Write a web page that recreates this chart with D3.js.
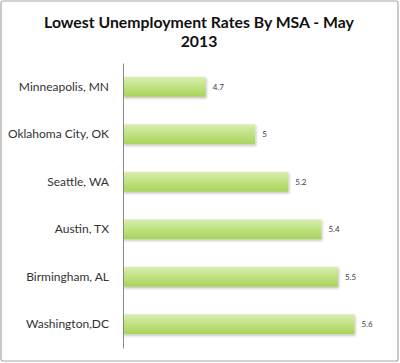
<!DOCTYPE html>
<html>
<head>
<meta charset="utf-8">
<script src="https://cdn.jsdelivr.net/npm/d3@7"></script>
<style>
  body { margin: 0; background: #fff; }
  svg { display: block; font-family: Lato, "Open Sans", sans-serif; }
</style>
</head>
<body>
<svg></svg>
<script>
var cities = ['Minneapolis, MN', 'Oklahoma City, OK', 'Seattle, WA', 'Austin, TX', 'Birmingham, AL', 'Washington,DC'];
var rates = [4.7, 5, 5.2, 5.4, 5.5, 5.6];
var titleLines = ['Lowest Unemployment Rates By MSA - May', '2013'];

var data = cities.map(function(c, i) { return {city: c, rate: rates[i]}; });

var width = 400, height = 363;
var svg = d3.select('svg').attr('width', width).attr('height', height);

var margin = {top: 63, right: 29, bottom: 15, left: 123},
  chartWidth = width - margin.left - margin.right,
  chartHeight = height - margin.top - margin.bottom;

// gradient for the bars
var defs = svg.append('defs');
var grad = defs.append('linearGradient').attr('id', 'barGrad')
  .attr('x1', 0).attr('y1', 0).attr('x2', 0).attr('y2', 1);
grad.append('stop').attr('offset', '0%').attr('stop-color', '#d9eeb3');
grad.append('stop').attr('offset', '45%').attr('stop-color', '#c2e385');
grad.append('stop').attr('offset', '100%').attr('stop-color', '#a9d35c');
var shadow = defs.append('filter').attr('id', 'shadow')
  .attr('x', '-5%').attr('y', '-20%').attr('width', '115%').attr('height', '160%');
shadow.append('feDropShadow').attr('dx', 1).attr('dy', 1.5).attr('stdDeviation', 1)
  .attr('flood-color', '#000').attr('flood-opacity', 0.25);

// frame
svg.append('rect')
  .attr('x', 1).attr('y', 1).attr('width', width - 3).attr('height', height - 3)
  .attr('rx', 2)
  .attr('fill', '#fff').attr('stroke', '#a6a6a6').attr('stroke-width', 1.2);

// title
svg.append('text')
  .attr('text-anchor', 'middle')
  .attr('font-weight', 'bold').attr('font-size', 15.8).attr('fill', '#111')
  .selectAll('tspan').data(titleLines).enter().append('tspan')
  .attr('x', 199)
  .attr('y', function(d, i) { return 28 + i * 18.5; })
  .text(function(d) { return d; });

var g = svg.append('g').attr('transform', 'translate(' + margin.left + ',' + margin.top + ')');

var x = d3.scaleLinear()
  .range([0, chartWidth])
  .domain([4.2, 5.7]);

var y = d3.scaleBand()
  .range([0, chartHeight])
  .domain(cities)
  .paddingInner(0.58)
  .paddingOuter(0.29);

g.selectAll('rect.bar')
  .data(data)
  .enter().append('rect')
  .attr('class', 'bar')
  .attr('x', 0)
  .attr('y', function(d) { return y(d.city); })
  .attr('width', function(d) { return x(d.rate); })
  .attr('height', y.bandwidth())
  .attr('fill', 'url(#barGrad)')
  .attr('filter', 'url(#shadow)');

g.selectAll('text.val')
  .data(data)
  .enter().append('text')
  .attr('class', 'val')
  .attr('x', function(d) { return x(d.rate) + 7; })
  .attr('y', function(d) { return y(d.city) + y.bandwidth() / 2; })
  .attr('dy', '0.35em')
  .attr('font-size', 8).attr('fill', '#404040')
  .text(function(d) { return d.rate; });

// category axis
var yAxis = g.append('g')
  .call(d3.axisLeft(y).tickSize(0).tickPadding(14));
yAxis.select('.domain').attr('stroke', '#888').attr('stroke-width', 1);
yAxis.selectAll('text').attr('font-size', 12).attr('fill', '#333')
  .attr('font-family', 'Lato, "Open Sans", sans-serif');
</script>
</body>
</html>
